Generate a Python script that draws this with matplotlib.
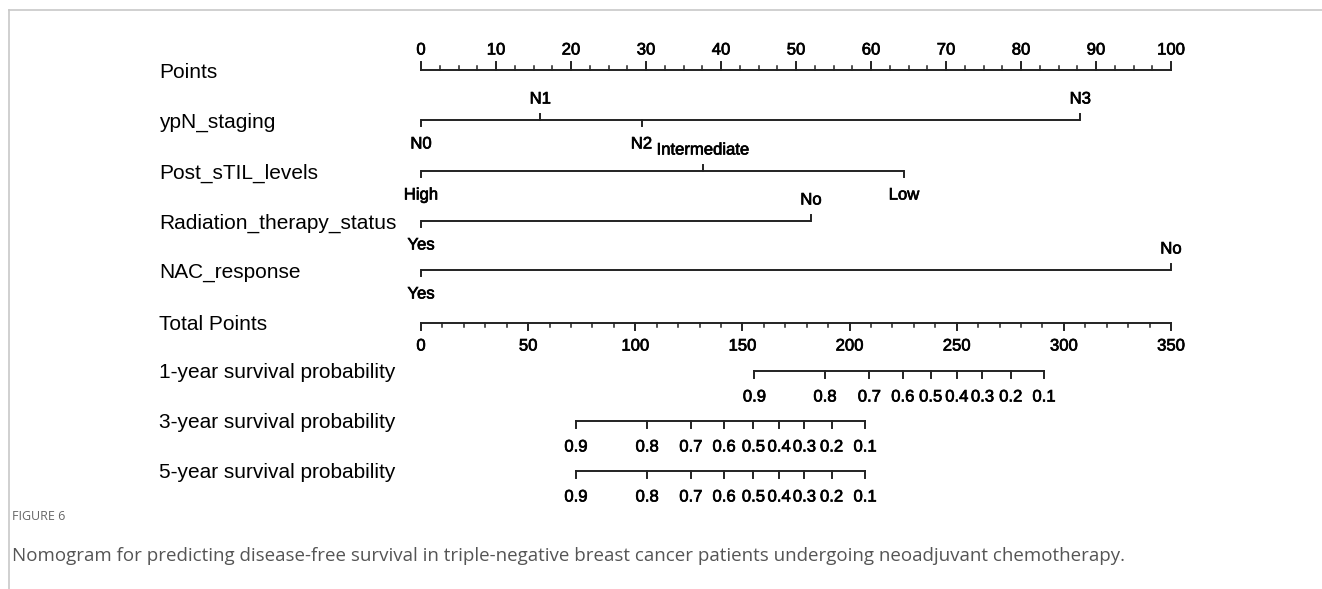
import numpy as np
import matplotlib
matplotlib.use("Agg")
import matplotlib.pyplot as plt
import matplotlib.patheffects as pe
from matplotlib.lines import Line2D

# nomogram values (points scale 0-100)
row_names = ["Points", "ypN_staging", "Post_sTIL_levels", "Radiation_therapy_status",
             "NAC_response", "Total Points", "1-year survival probability",
             "3-year survival probability", "5-year survival probability"]

ypn_labels = ["N0", "N1", "N2", "N3"]
ypn_points = [0, 15.9, 29.4, 87.9]

stil_labels = ["High", "Intermediate", "Low"]
stil_points = [0, 37.6, 64.4]

rt_labels = ["Yes", "No"]
rt_points = [0, 52.0]

nac_labels = ["Yes", "No"]
nac_points = [0, 100]

# survival scales, positions in total points
prob_labels = ["0.9", "0.8", "0.7", "0.6", "0.5", "0.4", "0.3", "0.2", "0.1"]
surv1_total = [155.6, 188.5, 209.2, 224.8, 237.8, 250.0, 262.0, 275.2, 290.7]
surv3_total = [72.3, 105.5, 125.9, 141.4, 155.1, 167.1, 178.9, 191.6, 207.2]
surv5_total = [72.3, 105.5, 125.9, 141.4, 155.1, 167.1, 178.9, 191.6, 207.2]

total_max = 350

W, H = 1322, 589
fig = plt.figure(figsize=(W / 100, H / 100), dpi=100)
ax = fig.add_axes([0, 0, 1, 1])
# 0 points at x=421px, 100 points at x=1171px
ax.set_xlim(-421 / 7.5, (W - 421) / 7.5)
ax.set_ylim(H, 0)
ax.axis("off")

FONT = "Liberation Sans"
LC = "#222222"
LW = 1.4
TC = "#000000"
tick_len = 6
thick = [pe.withStroke(linewidth=0.5, foreground=TC)]

row_y = [70, 120, 171, 221, 270, 323, 371, 421, 471]
label_off = 24


def tot2pt(v):
    return np.asarray(v, dtype=float) * 100.0 / total_max


def tlabel(x, y, s, fs=12):
    ax.text(x, y, s, ha="center", va="center", fontsize=fs, family=FONT,
            color=TC, path_effects=thick)


def scale_row(y, pts, labels, up_mask):
    ax.plot([min(pts), max(pts)], [y, y], color=LC, lw=LW, solid_capstyle="butt")
    for p, lab, up in zip(pts, labels, up_mask):
        if up:
            ax.plot([p, p], [y, y - tick_len], color=LC, lw=LW)
            tlabel(p, y - label_off + 3, lab)
        else:
            ax.plot([p, p], [y, y + tick_len], color=LC, lw=LW)
            tlabel(p, y + label_off, lab)


# row names
for name, y in zip(row_names, row_y):
    ax.text(-421 / 7.5 + 159 / 7.5, y + 2, name, ha="left", va="center",
            fontsize=15, family=FONT, color=TC)

# Points axis (ticks up)
y0 = row_y[0]
ax.plot([0, 100], [y0, y0], color=LC, lw=LW)
for v in np.arange(0, 100.1, 2.5):
    major = v % 10 == 0
    ax.plot([v, v], [y0, y0 - (8 if major else 4)], color=LC, lw=LW if major else 1.1)
    if major:
        tlabel(v, y0 - 20, f"{int(v)}")

# variables
scale_row(row_y[1], ypn_points, ypn_labels, [False, True, False, True])
scale_row(row_y[2], stil_points, stil_labels, [False, True, False])
scale_row(row_y[3], rt_points, rt_labels, [False, True])
scale_row(row_y[4], nac_points, nac_labels, [False, True])

# Total points axis (ticks down)
y5 = row_y[5]
ax.plot([0, 100], [y5, y5], color=LC, lw=LW)
for v in np.arange(0, total_max + 1, 10):
    major = v % 50 == 0
    p = tot2pt(v)
    ax.plot([p, p], [y5, y5 + (7 if major else 4)], color=LC, lw=LW if major else 1.1)
    if major:
        tlabel(p, y5 + 23, f"{int(v)}")

# survival probability scales
for y, tot in zip(row_y[6:], [surv1_total, surv3_total, surv5_total]):
    pts = tot2pt(tot)
    ax.plot([pts.min(), pts.max()], [y, y], color=LC, lw=LW)
    for p, lab in zip(pts, prob_labels):
        ax.plot([p, p], [y, y + 7], color=LC, lw=LW)
        tlabel(p, y + 26, lab)

# frame lines of the figure panel
fig.add_artist(Line2D([9 / W, 1], [1 - 10 / H, 1 - 10 / H], transform=fig.transFigure,
                      color="#c8c8c8", lw=1.2))
fig.add_artist(Line2D([9 / W, 9 / W], [0, 1 - 10 / H], transform=fig.transFigure,
                      color="#c8c8c8", lw=1.2))

# caption
fig.text(12 / W, 1 - 516 / H, "FIGURE 6", ha="left", va="center",
         fontsize=9, family="Open Sans", color="#666666")
fig.text(12 / W, 1 - 556 / H,
         "Nomogram for predicting disease-free survival in triple-negative breast cancer "
         "patients undergoing neoadjuvant chemotherapy.",
         ha="left", va="center", fontsize=13.5, family="Open Sans", color="#555555")

fig.savefig("out.png", dpi=100)
